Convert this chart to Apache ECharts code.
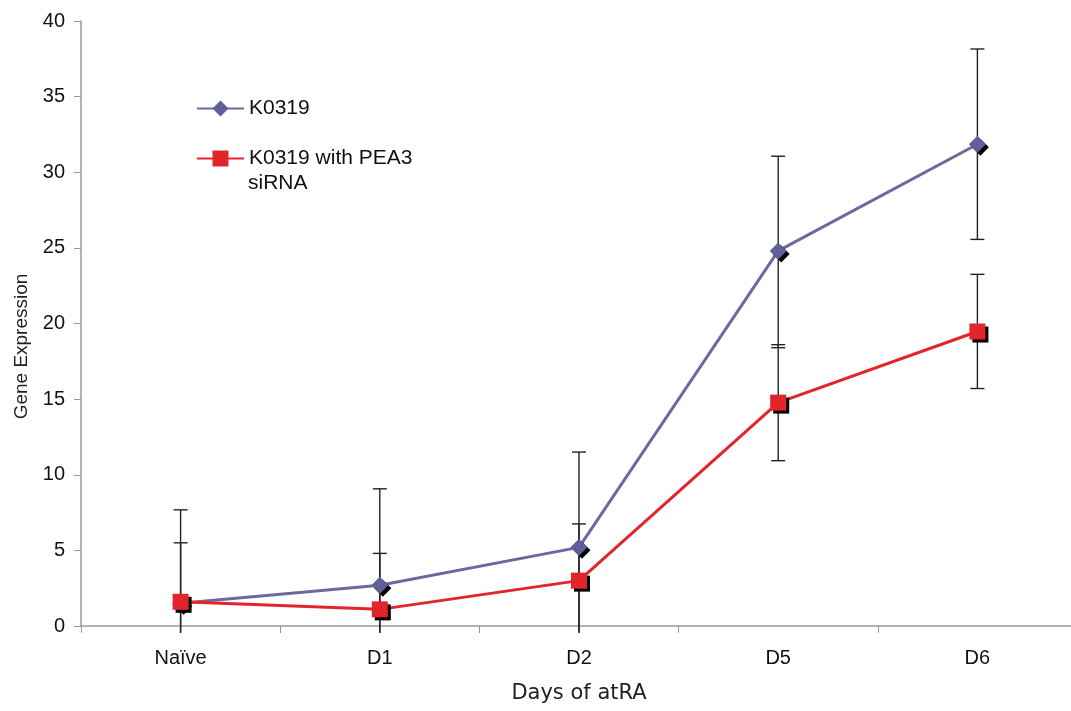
<!DOCTYPE html>
<html>
<head>
<meta charset="utf-8">
<script src="https://cdn.jsdelivr.net/npm/echarts@6/dist/echarts.min.js"></script>
<style>html,body{margin:0;padding:0;background:#fff;overflow:hidden;}#c{width:1080px;height:711px;}</style>
</head>
<body>
<div id="c"></div>
<script>
var categories = ['Naïve', 'D1', 'D2', 'D5', 'D6'];
var k0319 = [1.5, 2.7, 5.2, 24.8, 31.85];
var k0319High = [7.68, 9.07, 11.5, 31.06, 38.15];
var k0319Low = [-0.45, -0.45, -0.45, 18.4, 25.56];
var pea3 = [1.6, 1.1, 3.0, 14.77, 19.47];
var pea3High = [5.5, 4.8, 6.75, 18.6, 23.25];
var pea3Low = [-0.45, -0.45, -0.45, 10.93, 15.7];
var yTicks = [0, 5, 10, 15, 20, 25, 30, 35, 40];

var NAME1 = 'K0319';
var NAME2 = 'K0319 with PEA3 siRNA';

function errData(low, high) {
  return categories.map(function (c, i) { return [i, low[i], high[i]]; });
}
function errRender(params, api) {
  var x = api.value(0);
  var lowVal = api.value(1);
  var lo = api.coord([x, lowVal]);
  var hi = api.coord([x, api.value(2)]);
  var cap = 7;
  var st = { stroke: '#222', lineWidth: 1.4 };
  var children = [
    { type: 'line', shape: { x1: hi[0], y1: hi[1], x2: lo[0], y2: lo[1] }, style: st },
    { type: 'line', shape: { x1: hi[0] - cap, y1: hi[1], x2: hi[0] + cap, y2: hi[1] }, style: st }
  ];
  if (lowVal >= 0) {
    children.push({ type: 'line', shape: { x1: lo[0] - cap, y1: lo[1], x2: lo[0] + cap, y2: lo[1] }, style: st });
  }
  return { type: 'group', children: children };
}

var chart = echarts.init(document.getElementById('c'));
chart.setOption({
  animation: false,
  backgroundColor: '#fff',
  grid: { left: 81, top: 21, width: 996, height: 605 },
  legend: {
    data: [NAME1, NAME2],
    orient: 'vertical',
    left: 191,
    top: 93,
    padding: 5,
    itemWidth: 47,
    itemHeight: 20,
    itemGap: 29,
    formatter: function (n) { return n === NAME2 ? 'K0319 with PEA3' : n; },
    textStyle: { fontFamily: 'Liberation Sans', fontSize: 21, color: '#111', lineHeight: 20 },
    itemStyle: { shadowColor: 'rgba(0,0,0,0)', shadowBlur: 0, shadowOffsetX: 0, shadowOffsetY: 0 }
  },
  graphic: [{
    type: 'text', left: 248, top: 173,
    style: { text: 'siRNA', fontFamily: 'Liberation Sans', fontSize: 21, fill: '#111' }
  }],
  xAxis: {
    type: 'category',
    data: categories,
    boundaryGap: true,
    name: 'Days of atRA',
    nameLocation: 'middle',
    nameGap: 57,
    nameTextStyle: { fontFamily: 'DejaVu Sans', fontSize: 21, color: '#222' },
    axisLine: { lineStyle: { color: '#999', width: 1.5 } },
    axisTick: { show: true, length: 7, lineStyle: { color: '#999' } },
    axisLabel: { fontFamily: 'Liberation Sans', fontSize: 20, color: '#111', margin: 22 }
  },
  yAxis: {
    type: 'value',
    min: yTicks[0],
    max: yTicks[yTicks.length - 1],
    interval: 5,
    name: 'Gene Expression',
    nameLocation: 'middle',
    nameGap: 50,
    nameTextStyle: { fontFamily: 'Liberation Sans', fontSize: 19, color: '#222', padding: [0, 46, 0, 0] },
    axisLine: { show: true, lineStyle: { color: '#999', width: 1.5 } },
    axisTick: { show: true, length: 7, lineStyle: { color: '#999' } },
    splitLine: { show: false },
    axisLabel: { fontFamily: 'Liberation Sans', fontSize: 20, color: '#111', margin: 16 }
  },
  series: [
    {
      type: 'custom', name: NAME1 + ' err', renderItem: errRender,
      data: errData(k0319Low, k0319High), z: 1, clip: false, silent: true
    },
    {
      type: 'custom', name: NAME2 + ' err', renderItem: errRender,
      data: errData(pea3Low, pea3High), z: 1, clip: false, silent: true
    },
    {
      type: 'line', name: NAME1, data: k0319, z: 3,
      symbol: 'diamond', symbolSize: 17,
      lineStyle: { color: '#6a6a9e', width: 3 },
      itemStyle: { color: '#5f5f99', shadowColor: '#000', shadowBlur: 0, shadowOffsetX: 3, shadowOffsetY: 3 }
    },
    {
      type: 'line', name: NAME2, data: pea3, z: 4,
      symbol: 'rect', symbolSize: 16,
      lineStyle: { color: '#e3242b', width: 3 },
      itemStyle: { color: '#e3242b', shadowColor: '#000', shadowBlur: 0, shadowOffsetX: 3, shadowOffsetY: 3 }
    }
  ]
});
</script>
</body>
</html>
